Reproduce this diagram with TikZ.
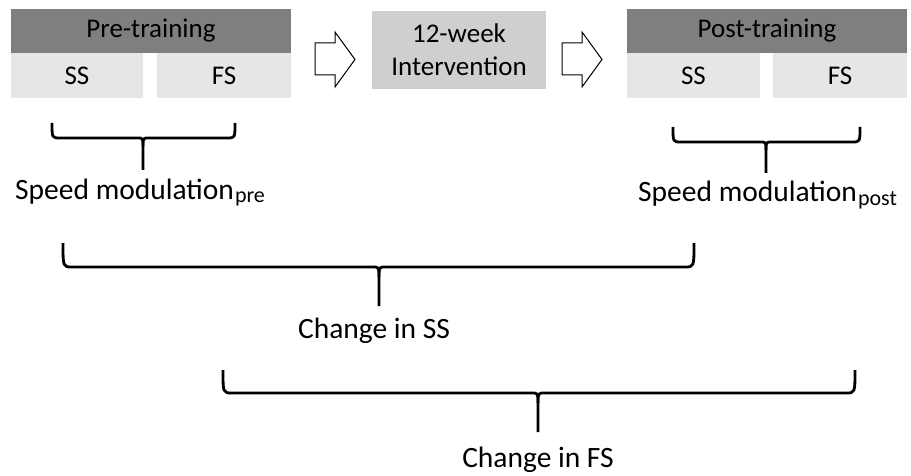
\documentclass[tikz,border=0pt]{standalone}
\usepackage{fontspec}
\setmainfont{Carlito}
\definecolor{darkgray}{HTML}{7F7F7F}
\definecolor{lightgray}{HTML}{E7E6E6}
\definecolor{midgray}{HTML}{D0CECE}
\newcommand{\boxfont}{\fontsize{27}{32}\selectfont}
\newcommand{\labfont}{\fontsize{29.5}{34}\selectfont}
\newcommand{\subfont}{\fontsize{22}{24}\selectfont}
\begin{document}
\begin{tikzpicture}[x=1pt,y=-1pt,
  box/.style={inner sep=0pt, outer sep=0pt, font=\boxfont, text=black},
  headbox/.style={box, fill=darkgray, minimum width=280pt, minimum height=44pt},
  subbox/.style={box, fill=lightgray, minimum height=45pt},
  midbox/.style={box, fill=midgray, minimum width=174pt, minimum height=78pt, align=center},
  blockarrow/.style={draw=black, fill=white, line width=1pt, line join=miter},
  brace/.style={draw=black, line width=2.8pt, line cap=butt, line join=round},
  lab/.style={inner sep=0pt, font=\labfont}
]
\useasboundingbox (0,0) rectangle (911,476);

% Pre-training group
\node[headbox] (pre) at (151,31) {Pre-training};
\node[subbox, minimum width=132pt] (preSS) at (77,75.5) {SS};
\node[subbox, minimum width=134pt] (preFS) at (224,75.5) {FS};

% Intervention
\node[midbox] (int) at (459,50) {12-week\\[1pt]Intervention};

% Post-training group
\node[headbox] (post) at (767,31) {Post-training};
\node[subbox, minimum width=133pt] (postSS) at (693.5,75.5) {SS};
\node[subbox, minimum width=134pt] (postFS) at (840,75.5) {FS};

% block arrows
\draw[blockarrow] (315,43) -- (335,43) -- (335,32) -- (355,59.5) -- (335,87) -- (335,75) -- (315,75) -- cycle;
\draw[blockarrow] (562,43) -- (582,43) -- (582,32) -- (602,59.5) -- (582,87) -- (582,75) -- (562,75) -- cycle;

% brace 1 (pre)
\coordinate (b1L) at (52,123);
\coordinate (b1R) at (235,123);
\coordinate (b1C) at (143,170);
\draw[brace] (b1L) .. controls (52,138) .. (60,138) -- (137,138) .. controls (143,138) .. (143,146) -- (b1C);
\draw[brace] (b1R) .. controls (235,138) .. (227,138) -- (149,138) .. controls (143,138) .. (143,146);
\node[lab, anchor=base west] (sm1) at (15,200) {Speed modulation\hspace{1pt}\raisebox{-3pt}{\subfont pre}};

% brace 2 (post)
\coordinate (b2L) at (673,127);
\coordinate (b2R) at (860,127);
\coordinate (b2C) at (766,173);
\draw[brace] (b2L) .. controls (673,142) .. (681,142) -- (760,142) .. controls (766,142) .. (766,150) -- (b2C);
\draw[brace] (b2R) .. controls (860,142) .. (852,142) -- (772,142) .. controls (766,142) .. (766,150);
\node[lab, anchor=base west] (sm2) at (638,202) {Speed modulation\hspace{1pt}\raisebox{-3pt}{\subfont post}};

% brace 3 (change in SS)
\coordinate (b3L) at (63,243);
\coordinate (b3R) at (694,243);
\coordinate (b3C) at (379,306);
\draw[brace] (b3L) .. controls (63,267) .. (72,267) -- (372,267) .. controls (379,267) .. (379,277) -- (b3C);
\draw[brace] (b3R) .. controls (694,267) .. (685,267) -- (386,267) .. controls (379,267) .. (379,277);
\node[lab, anchor=base] (css) at (374,338) {Change in SS};

% brace 4 (change in FS)
\coordinate (b4L) at (223,370);
\coordinate (b4R) at (855,370);
\coordinate (b4C) at (538,432);
\draw[brace] (b4L) .. controls (223,393) .. (232,393) -- (531,393) .. controls (538,393) .. (538,403) -- (b4C);
\draw[brace] (b4R) .. controls (855,393) .. (846,393) -- (545,393) .. controls (538,393) .. (538,403);
\node[lab, anchor=base] (cfs) at (538,467) {Change in FS};
\end{tikzpicture}
\end{document}
